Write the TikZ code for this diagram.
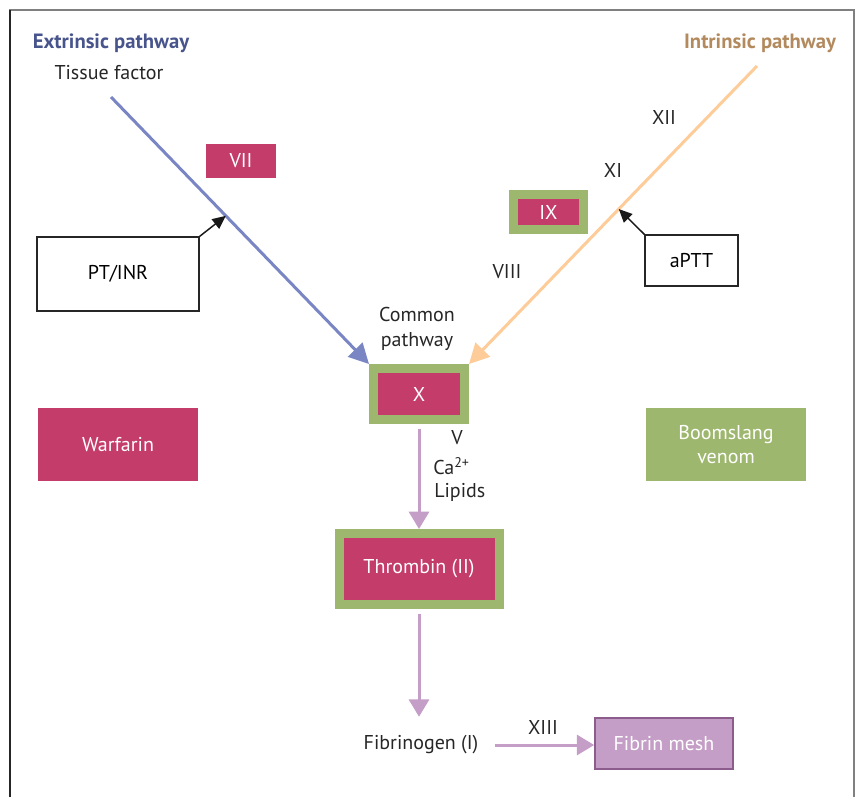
\documentclass[tikz,border=0pt]{standalone}
\usepackage{fontspec}
\setmainfont{PT Sans}
\usepackage{tikz}
\usetikzlibrary{arrows.meta}
\definecolor{cgred}{RGB}{196, 60, 106}
\definecolor{cggreen}{RGB}{158, 183, 110}
\definecolor{cgpurple}{RGB}{196, 158, 198}
\definecolor{cgpurpledark}{RGB}{140, 92, 140}
\definecolor{cgblue}{RGB}{122, 134, 196}
\definecolor{cgbluetitle}{RGB}{72, 84, 140}
\definecolor{cgorange}{RGB}{253, 204, 153}
\definecolor{cgtan}{RGB}{178, 138, 94}

\tikzset{
  lbl/.style={font=\fontsize{15}{18.5}\selectfont, text=black!85, inner sep=0pt},
  title/.style={font=\fontsize{15.5}{18}\selectfont\bfseries, inner sep=0pt},
  factor/.style={fill=cgred, text=white, font=\fontsize{15}{18.5}\selectfont, inner sep=0pt},
  active/.style={factor, draw=cggreen, line width=9*0.75pt},
  testbox/.style={draw=black!85, line width=0.9pt, fill=white, font=\fontsize{15}{18.5}\selectfont, inner sep=0pt},
  pathline/.style={line width=3*0.75pt, -{Triangle[length=15pt, width=15pt]}},
  testarrow/.style={black!90, line width=1.1pt, -{Triangle[length=10pt, width=9pt]}},
  commonarrow/.style={cgpurple, line width=3*0.75pt, -{Triangle[length=13pt, width=15pt]}}
}

\begin{document}
\begin{tikzpicture}[x=0.75pt, y=-0.75pt]
\useasboundingbox (0,0) rectangle (856,797);

% frame (open at the bottom)
\draw[gray, line width=1.2pt] (10,797) -- (10,10) -- (854,10) -- (854,797);
\draw[black!85, line width=1.2pt] (10,10) -- (10,797);

% titles
\node[title, text=cgbluetitle] (extTitle) at (111,43) {Extrinsic pathway};
\node[title, text=cgtan] (intTitle) at (760,43) {Intrinsic pathway};
\node[lbl] (tissue) at (109,73) {Tissue factor};

% common pathway factor X
\node[active, minimum width=91*0.75pt, minimum height=51*0.75pt] (X) at (419,394) {X};
\node[lbl, align=center] (common) at (417,329) {Common\\pathway};

% the two pathway lines
\coordinate (extStart) at (111,97);
\coordinate (intStart) at (757,66);
\draw[pathline, cgblue] (extStart) -- (X.north west);
\draw[pathline, cgorange] (intStart) -- (X.north east);
\path (extStart) -- (X.north west) coordinate[pos=0.445] (ptHit);
\path (intStart) -- (X.north east) coordinate[pos=0.48] (apttHit);

% extrinsic side
\node[factor, minimum width=70*0.75pt, minimum height=34*0.75pt] (VII) at (241,161) {VII};
\node[testbox, minimum width=162*0.75pt, minimum height=74*0.75pt] (ptinr) at (118,274) {PT/INR};
\draw[testarrow] (ptinr.north east) -- (ptHit);

% intrinsic side
\node[lbl] (XII) at (664,117) {XII};
\node[lbl] (XI) at (613,170) {XI};
\node[active, minimum width=70*0.75pt, minimum height=35*0.75pt] (IX) at (548.5,212) {IX};
\node[lbl] (VIII) at (507,272) {VIII};
\node[testbox, minimum width=93*0.75pt, minimum height=51*0.75pt] (aptt) at (691.5,260.5) {aPTT};
\draw[testarrow] (aptt.north west) -- (apttHit);

% cofactors
\node[lbl] (V) at (457,438) {V};
\node[lbl, anchor=west] (ca) at (433,466) {Ca\textsuperscript{2+}};
\node[lbl, anchor=west] (lipids) at (434,492) {Lipids};

% thrombin and fibrin
\node[active, minimum width=160*0.75pt, minimum height=71*0.75pt] (thrombin) at (419,569) {Thrombin (II)};
\node[lbl] (fibrinogen) at (421,745) {Fibrinogen (I)};
\node[fill=cgpurple, draw=cgpurpledark, line width=1.2pt, text=white, font=\fontsize{15}{18.5}\selectfont,
      minimum width=138*0.75pt, minimum height=51*0.75pt] (mesh) at (664,743.5) {Fibrin mesh};
\draw[commonarrow] ([yshift=-3.4pt]X.south) -- (thrombin.north);
\draw[commonarrow] ([yshift=-3.4pt]thrombin.south) -- ([yshift=14pt]thrombin.south |- fibrinogen.north);
\draw[commonarrow] ([xshift=12pt]fibrinogen.east) -- (fibrinogen.east -| mesh.west);
\node[lbl] (XIII) at (543,727) {XIII};

% drugs
\node[factor, minimum width=160*0.75pt, minimum height=73*0.75pt] (warfarin) at (118,444.5) {Warfarin};
\node[fill=cggreen, text=white, font=\fontsize{15}{18.5}\selectfont, align=center, inner sep=0pt,
      minimum width=160*0.75pt, minimum height=73*0.75pt] (boomslang) at (726,444.5) {Boomslang\\venom};
\end{tikzpicture}
\end{document}
